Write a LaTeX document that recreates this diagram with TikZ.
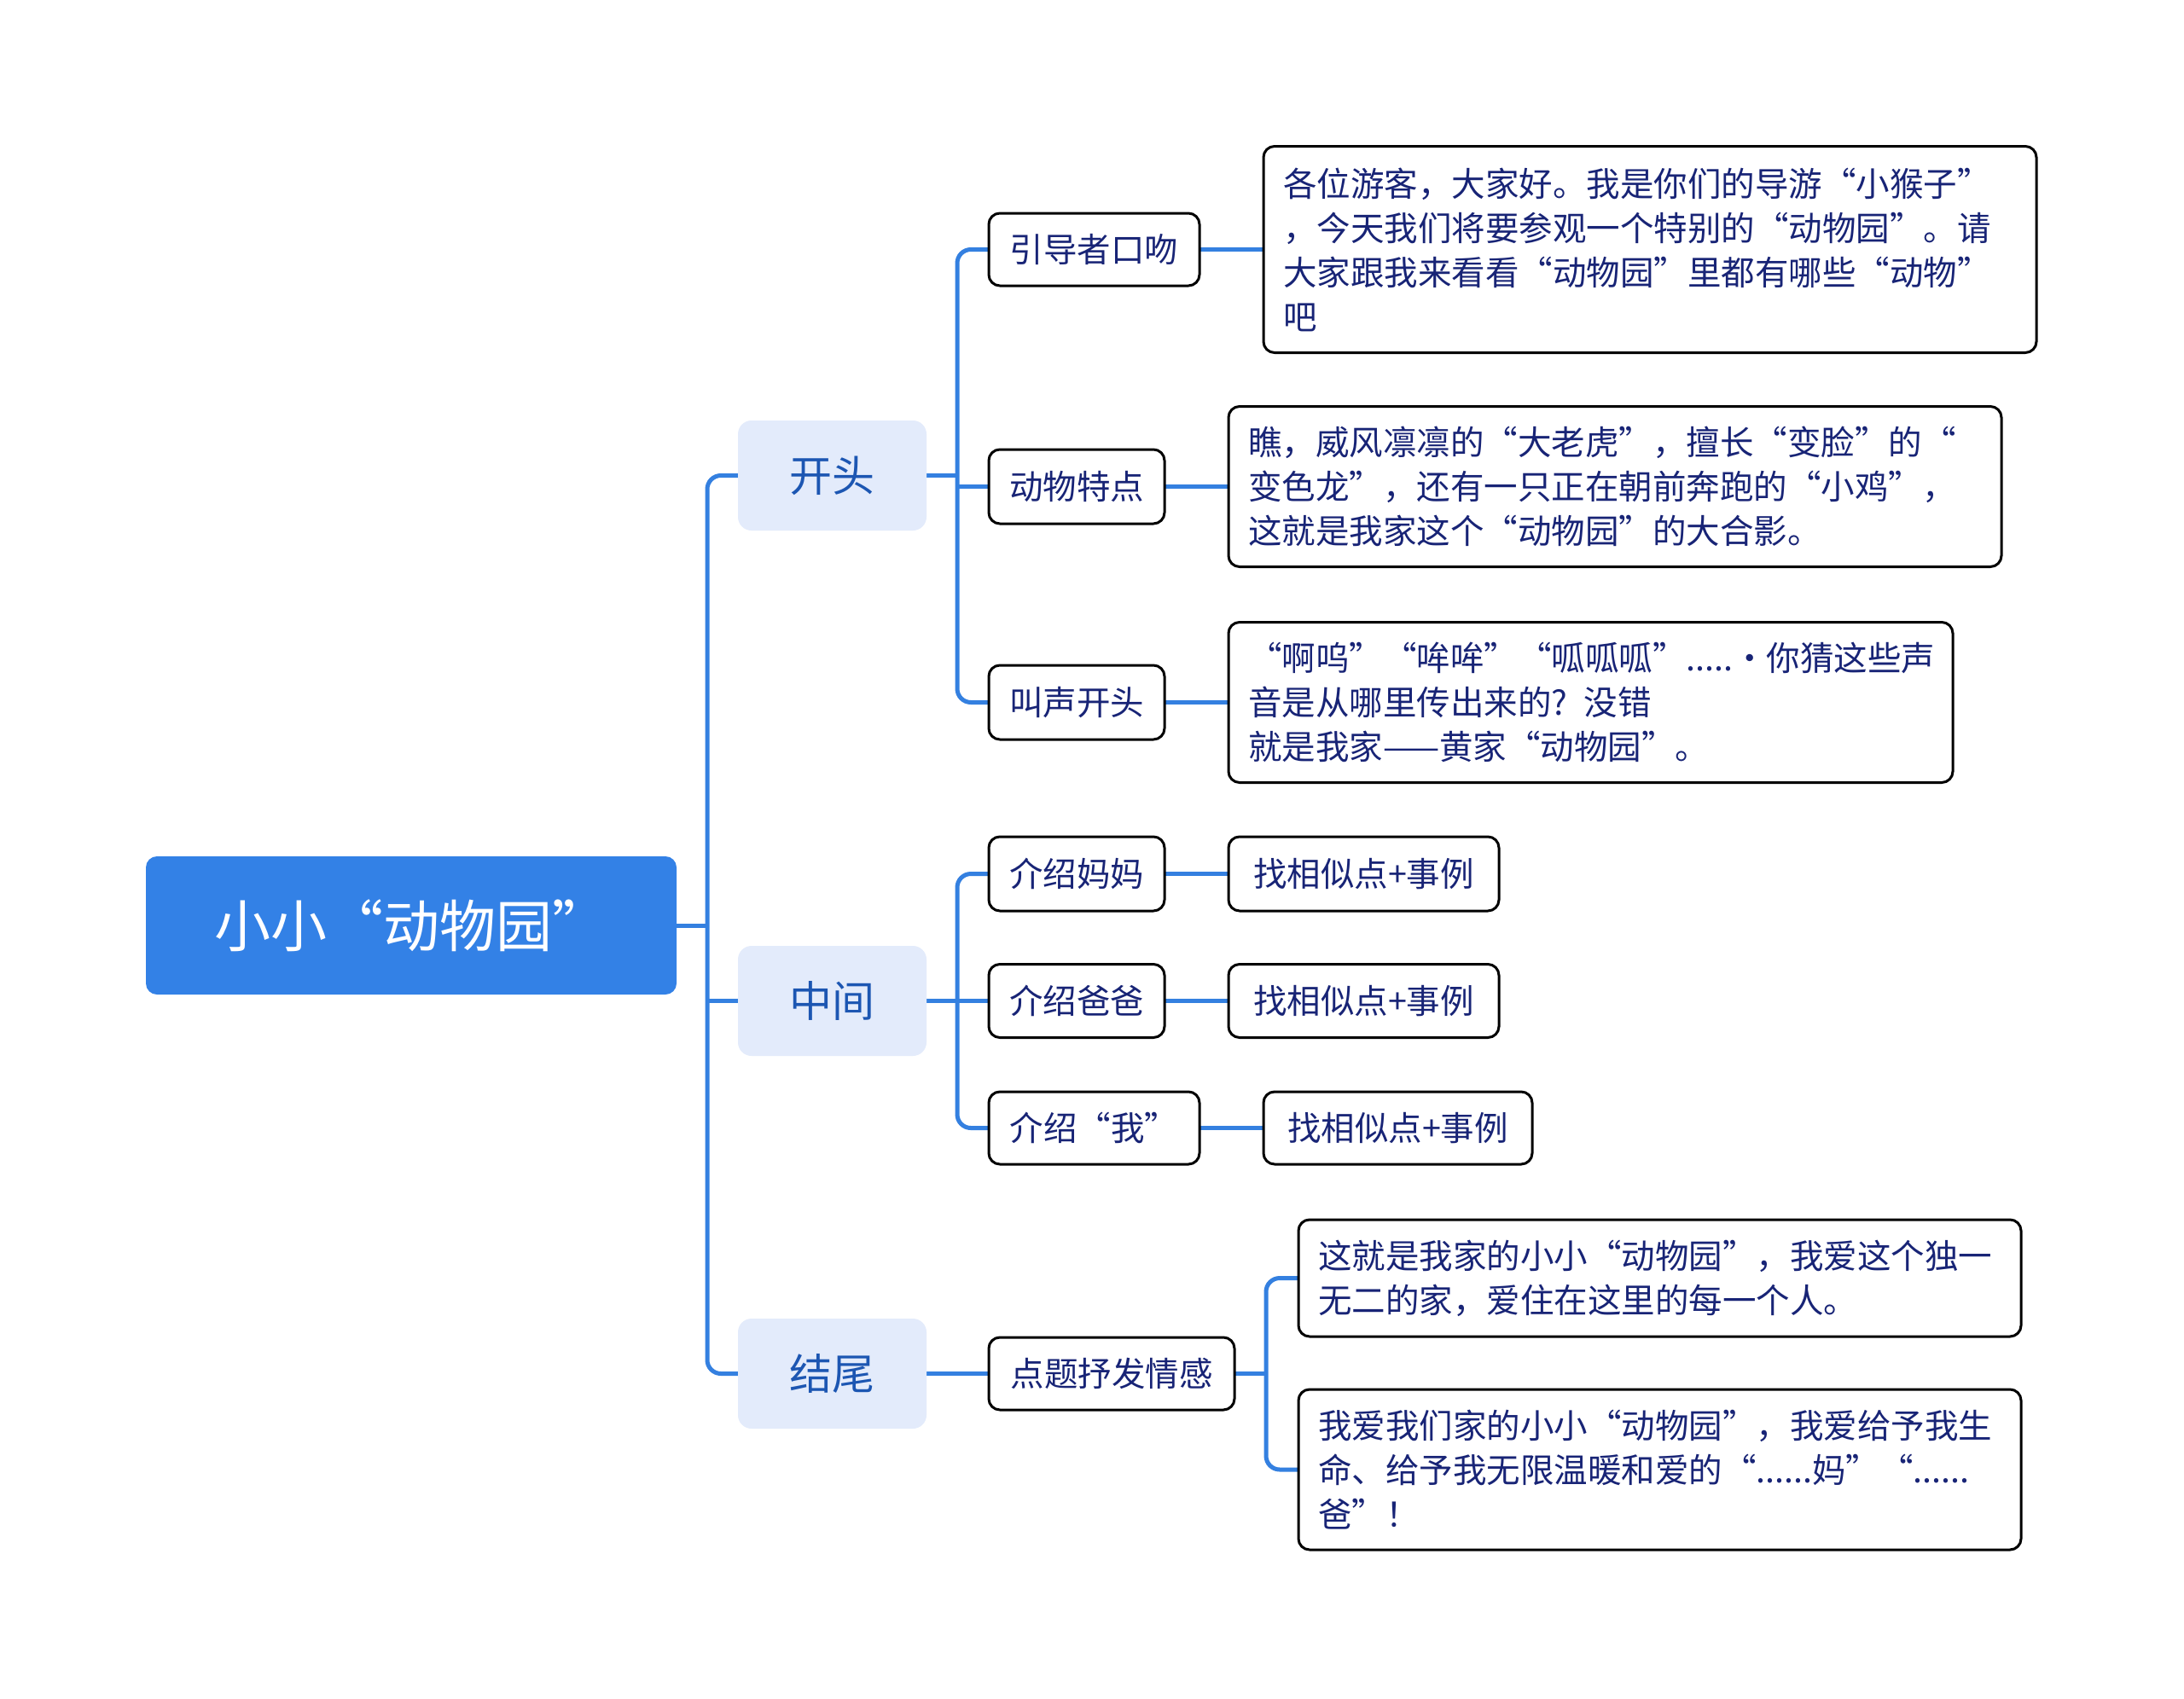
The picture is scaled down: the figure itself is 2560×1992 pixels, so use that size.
\documentclass[tikz,border=0pt]{standalone}
\usepackage{fontspec}
\newfontfamily\cjk{Noto Sans CJK SC}
\usetikzlibrary{backgrounds}
\definecolor{rootblue}{RGB}{51,129,230}
\definecolor{linkblue}{RGB}{52,128,224}
\definecolor{lvlfill}{RGB}{227,235,251}
\definecolor{lvltext}{RGB}{28,86,178}
\definecolor{navy}{RGB}{24,36,118}
\tikzset{
  rootbox/.style={fill=rootblue, rounded corners=13pt, text=white, minimum width=622pt, minimum height=162pt, font=\cjk\fontsize{66}{74}\selectfont, inner sep=0pt, outer sep=0pt},
  lvlbox/.style={fill=lvlfill, rounded corners=16pt, text=lvltext, minimum width=221pt, minimum height=129pt, font=\cjk\fontsize{50}{60}\selectfont, inner sep=0pt, outer sep=0pt},
  leafbox/.style={draw=black, line width=3pt, fill=white, rounded corners=13pt, text=navy, font=\cjk\fontsize{39.5}{52}\selectfont, inner sep=0pt, outer sep=0pt},
  textbox/.style={leafbox, align=left, inner xsep=23pt, inner ysep=0pt},
  conn/.style={draw=linkblue, line width=5pt, rounded corners=16pt},
}
\begin{document}
\begin{tikzpicture}[x=1pt,y=-1pt]
\useasboundingbox (0,0) rectangle (2560,1992);

\coordinate (t1) at (829,0);
\coordinate (t2) at (1122,0);
\coordinate (t3) at (1484,0);

% nodes
\node[rootbox] (root) at (482,1085) {小小“动物园”};
\node[lvlbox] (k1) at (975.5,557.5) {开头};
\node[lvlbox] (k2) at (975.5,1173.5) {中间};
\node[lvlbox] (k3) at (975.5,1610.5) {结尾};

\node[leafbox, minimum width=247pt, minimum height=85pt] (a1) at (1282.5,292.5) {引导者口吻};
\node[leafbox, minimum width=206pt, minimum height=87pt] (a2) at (1262,570.5) {动物特点};
\node[leafbox, minimum width=206pt, minimum height=87pt] (a3) at (1262,823.5) {叫声开头};
\node[leafbox, minimum width=206pt, minimum height=87pt] (b1) at (1262,1024.5) {介绍妈妈};
\node[leafbox, minimum width=206pt, minimum height=86pt] (b2) at (1262,1173.5) {介绍爸爸};
\node[leafbox, minimum width=247pt, minimum height=85pt] (b3) at (1282.5,1322.5) {介绍“我”};
\node[leafbox, minimum width=288pt, minimum height=85pt] (c1) at (1303,1610.5) {点题抒发情感};

\node[textbox, text width=860pt, minimum height=242pt] (e1) at (1934,292.5) {各位游客，大家好。我是你们的导游“小猴子”\\，今天我们将要参观一个特别的“动物园”。请\\大家跟我来看看“动物园”里都有哪些“动物”\\吧};
\node[textbox, text width=860pt, minimum height=188pt] (e2) at (1893,570.5) {瞧，威风凛凛的“大老虎”，擅长“变脸”的“\\变色龙”，还有一只正在朝前奔跑的“小鸡”，\\这就是我家这个“动物园”的大合影。};
\node[textbox, text width=803pt, minimum height=188pt] (e3) at (1864.5,823.5) {“啊呜”“哞哞”“呱呱呱”.....·你猜这些声\\音是从哪里传出来的? 没错\\就是我家——黄家“动物园”。};

\node[leafbox, minimum width=317pt, minimum height=87pt] (f1) at (1598.5,1024.5) {找相似点+事例};
\node[leafbox, minimum width=317pt, minimum height=86pt] (f2) at (1598.5,1173.5) {找相似点+事例};
\node[leafbox, minimum width=315pt, minimum height=85pt] (f3) at (1638.5,1322.5) {找相似点+事例};

\node[textbox, text width=801pt, minimum height=137pt] (g1) at (1945.5,1498.5) {这就是我家的小小“动物园”，我爱这个独一\\无二的家，爱住在这里的每一个人。};
\node[textbox, text width=801pt, minimum height=188pt] (g2) at (1945.5,1723) {我爱我们家的小小“动物园”，我爱给予我生\\命、给予我无限温暖和爱的“......妈”“......\\爸”！};

% background and connectors
\begin{scope}[on background layer]
\fill[white] (0,0) rectangle (2560,1992);
\draw[conn] (k1.west) -- (k1.west -| t1) |- (k3.west);
\draw[conn] (root.east) -- (root.east -| t1);
\draw[conn] (k2.west -| t1) -- (k2.west);
\draw[conn] (a1.west) -- (a1.west -| t2) |- (a3.west);
\draw[conn] (k1.east) -- (k1.east -| t2);
\draw[conn] (a2.west -| t2) -- (a2.west);
\draw[conn] (b1.west) -- (b1.west -| t2) |- (b3.west);
\draw[conn] (k2.east) -- (b2.west);
\draw[conn] (k3.east) -- (c1.west);
\draw[conn] (g1.west) -- (g1.west -| t3) |- (g2.west);
\draw[conn] (c1.east) -- (c1.east -| t3);
\draw[conn] (a1.east) -- (e1.west);
\draw[conn] (a2.east) -- (e2.west);
\draw[conn] (a3.east) -- (e3.west);
\draw[conn] (b1.east) -- (f1.west);
\draw[conn] (b2.east) -- (f2.west);
\draw[conn] (b3.east) -- (f3.west);
\end{scope}
\end{tikzpicture}
\end{document}
